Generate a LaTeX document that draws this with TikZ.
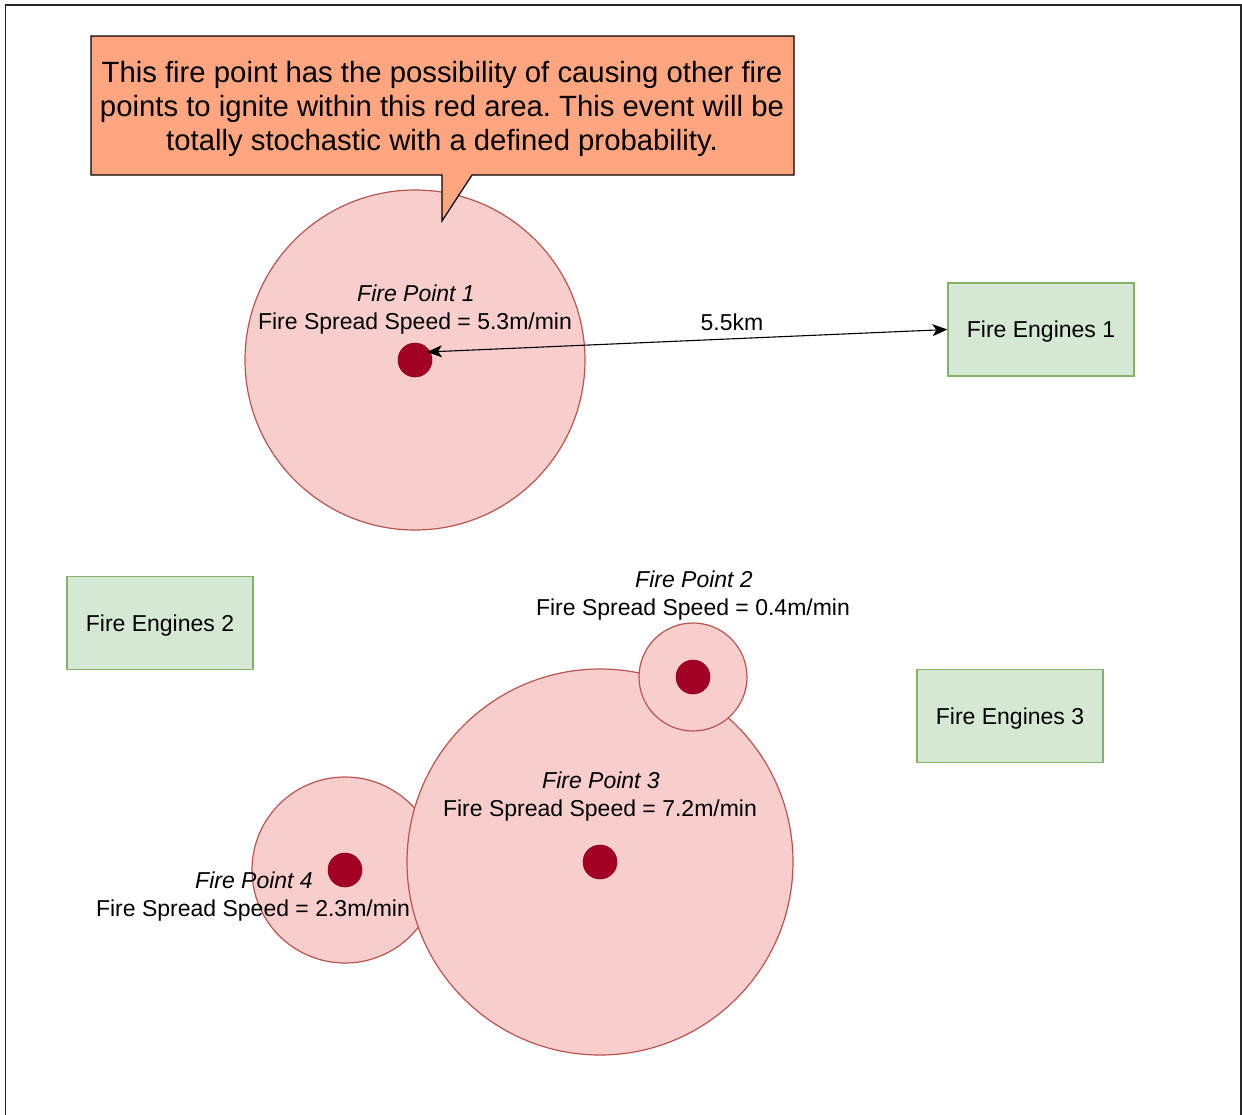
\documentclass[tikz,border=0pt]{standalone}
\usepackage{fontspec}
\setmainfont{Liberation Sans}
\usetikzlibrary{arrows.meta}
\frenchspacing
\definecolor{circfill}{HTML}{F8CECC}
\definecolor{circline}{HTML}{B85450}
\definecolor{dotfill}{HTML}{A20025}
\definecolor{dotline}{HTML}{8F001F}
\definecolor{boxfill}{HTML}{D5E8D4}
\definecolor{boxline}{HTML}{82B366}
\definecolor{callfill}{HTML}{FFA680}
\begin{document}
\begin{tikzpicture}[x=1pt,y=-1pt,
  area/.style={circle,draw=circline,fill=circfill,line width=1.2pt,inner sep=0pt},
  firedot/.style={circle,draw=dotline,fill=dotfill,line width=0.6pt,minimum size=34pt,inner sep=0pt},
  engine/.style={draw=boxline,fill=boxfill,line width=1.2pt,minimum width=186pt,minimum height=93pt,text depth=0pt,font=\fontsize{23}{27.6}\selectfont},
  lbl/.style={font=\fontsize{23}{27.6}\selectfont,inner sep=0pt,text depth=0pt},
  ttl/.style={font=\fontsize{23}{27.6}\selectfont\itshape,inner sep=0pt,text depth=0pt}]
\useasboundingbox (0,0) rectangle (1242,1114);
% frame
\draw[line width=1.5pt,black!85] (5.5,1116) -- (5.5,5) -- (1241,5) -- (1241,1116);

% circles
\node[area,minimum size=340pt] (c1) at (415,360) {};
\node[area,minimum size=186pt] (c4) at (345,870) {};
\node[area,minimum size=386pt] (c3) at (600,862) {};
\node[area,minimum size=108pt] (c2) at (693,677) {};

% dots
\node[firedot] (d1) at (415,360) {};
\node[firedot] (d2) at (693,677) {};
\node[firedot] (d3) at (600,862) {};
\node[firedot] (d4) at (345,870) {};

% labels
\node[ttl] (t1) at (416,293) {Fire Point 1};
\node[lbl] (s1) at (415,321) {Fire Spread Speed = 5.3m/min};
\node[ttl] (t2) at (694,579) {Fire Point 2};
\node[lbl] (s2) at (693,607) {Fire Spread Speed = 0.4m/min};
\node[ttl] (t3) at (601,780) {Fire Point 3};
\node[lbl] (s3) at (600,808) {Fire Spread Speed = 7.2m/min};
\node[ttl] (t4) at (254,880) {Fire Point 4};
\node[lbl] (s4) at (253,908) {Fire Spread Speed = 2.3m/min};

% engines
\node[engine] (fe1) at (1041,329.5) {Fire Engines 1};
\node[engine] (fe2) at (160,623) {Fire Engines 2};
\node[engine] (fe3) at (1010,716) {Fire Engines 3};

% distance arrow
\coordinate (a1) at (427,352);
\draw[line width=1.1pt,{Stealth[length=15pt,width=12pt,inset=4pt]}-{Stealth[length=15pt,width=12pt,inset=4pt]}] (a1) -- (fe1.west);
\node[lbl] (dist) at (732,322) {5.5km};

% callout
\draw[line width=1.2pt,fill=callfill] (91,36) -- (794,36) -- (794,175) -- (472,175) -- (442,221) -- (442,175) -- (91,175) -- cycle;
\node[align=center,inner sep=0pt,font=\fontsize{29.3}{34}\selectfont] (call) at (442,109) {This fire point has the possibility of causing other fire\\points to ignite within this red area. This event will be\\totally stochastic with a defined probability.};
\end{tikzpicture}
\end{document}
